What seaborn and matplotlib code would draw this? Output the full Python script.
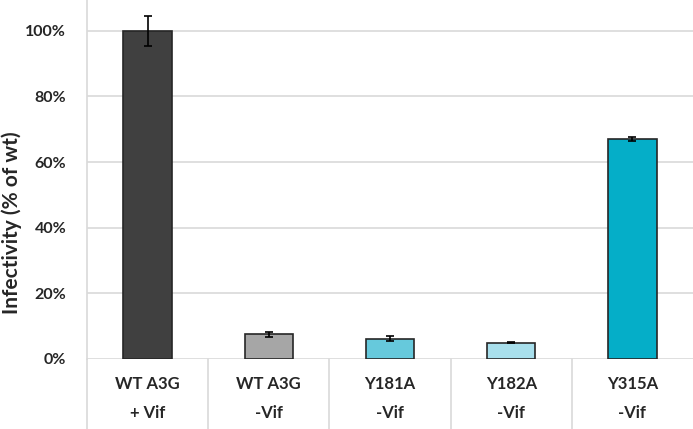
import numpy as np
import matplotlib.pyplot as plt
import seaborn as sns

sns.set_style('white')
plt.rcParams['font.family'] = ['Lato', 'DejaVu Sans']

# data
constructs = ['WT A3G', 'WT A3G', 'Y181A', 'Y182A', 'Y315A']
vif_state = ['+ Vif', '-Vif', '-Vif', '-Vif', '-Vif']
infectivity = [100.0, 7.5, 6.2, 5.0, 67.0]
errors = [4.6, 0.7, 0.8, 0.2, 0.7]
bar_colors = ['#404040', '#a6a6a6', '#66c9dc', '#a8dfec', '#05aec8']

labels = [f'{c}\n{v}' for c, v in zip(constructs, vif_state)]
keys = [str(i) for i in range(len(labels))]

fig = plt.figure(figsize=(6.93, 4.29), dpi=100)
ax = fig.add_axes([87 / 693, 70 / 429, 606 / 693, 359 / 429])

sns.barplot(x=keys, y=infectivity, hue=keys, palette=bar_colors, legend=False,
            saturation=1, width=0.4, edgecolor='#262626', linewidth=1.2, ax=ax, zorder=3)
ax.errorbar(np.arange(len(keys)), infectivity, yerr=errors, fmt='none',
            ecolor='black', elinewidth=1.2, capsize=3, capthick=1.2, zorder=4)

ax.set_xlim(-0.5, len(keys) - 0.5)
ax.set_ylim(0, 109.4)
ax.set_yticks([0, 20, 40, 60, 80, 100])
ax.set_yticklabels([f'{t}%' for t in [0, 20, 40, 60, 80, 100]], fontweight='bold', fontsize=11.5)
ax.yaxis.grid(True, color='#d9d9d9', linewidth=1.2, zorder=0)
ax.set_axisbelow(True)

ax.set_xticks(np.arange(len(keys)))
ax.set_xticklabels(labels, fontweight='bold', fontsize=12, linespacing=2.05)
ax.tick_params(axis='x', length=0, pad=12)
ax.tick_params(axis='y', length=0, pad=15)

for s in ['top', 'right', 'bottom']:
    ax.spines[s].set_visible(False)
ax.spines['left'].set_color('#d9d9d9')
ax.spines['left'].set_linewidth(1.2)

# table-style category separators below the axis
for xd in np.arange(-0.5, len(keys) - 0.5, 1.0):
    ax.plot([xd, xd], [0, -22], color='#d9d9d9', lw=1.2, clip_on=False, zorder=1)

ax.set_xlabel('')
ax.set_ylabel('Infectivity (% of wt)', fontweight='bold', fontsize=15)
ax.yaxis.set_label_coords(-0.108, 0.38)

fig.savefig('out.png', dpi=100)
